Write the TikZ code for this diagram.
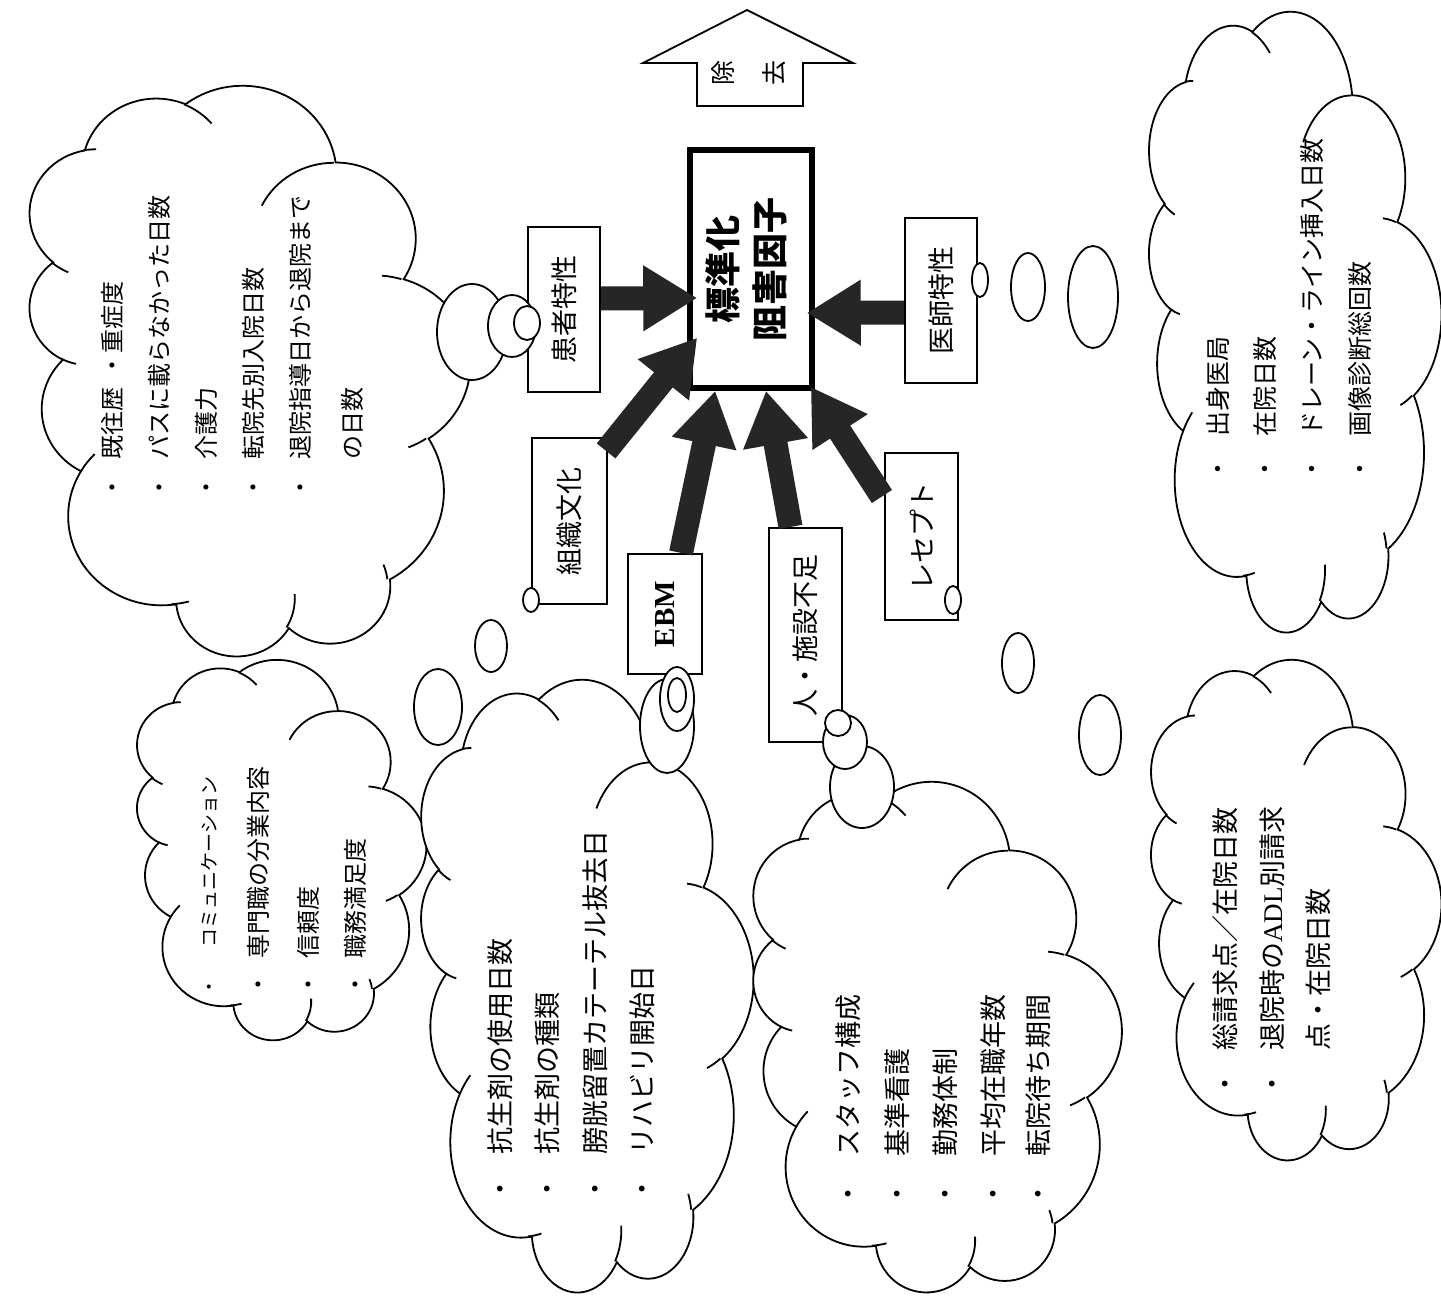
\documentclass[tikz,border=0pt]{standalone}
\usepackage{fontspec}
\usepackage{graphicx}
\setmainfont{Liberation Serif}
\newfontfamily\jp{Noto Sans CJK JP}
\usetikzlibrary{arrows.meta,calc}

% --- Word-style cloud outline (unit frame 0..100, y down) -------------------
% arc given by radii, visual start angle and sweep; converted to parametric
\newcommand\cloudangles[4]{%
  \pgfmathsetmacro\tmpa{atan2(sin(#3)/#2, cos(#3)/#1)}%
  \pgfmathsetmacro\tmpb{atan2(sin(#3+#4)/#2, cos(#3+#4)/#1)}%
  \pgfmathsetmacro\tmpd{mod(\tmpb-\tmpa+720,360)}%
  \xdef\cas{\tmpa}\xdef\cad{\tmpd}}
\newcommand\carc[4]{\pgfextra{\cloudangles{#1}{#2}{#3}{#4}}arc[start angle=\cas,delta angle=\cad,x radius=#1,y radius=#2]}

\def\cloudoutline{(9.028,33.264)
 \carc{15.632}{21.273}{-190.487}{123.781}
 \carc{12.345}{16.822}{-144.102}{89.945}
 \carc{10.104}{13.762}{-145.808}{99.723}
 \carc{11.243}{15.266}{-130.986}{117.242}
 \carc{12.345}{16.836}{-78.709}{109.027}
 \carc{15.683}{21.343}{-46.267}{130.269}
 \carc{13.391}{18.211}{0.625}{114.033}
 \carc{15.630}{21.331}{22.452}{115.173}
 \carc{17.870}{24.405}{66.243}{75.711}
 \carc{10.093}{13.699}{-274.942}{146.736}
 \carc{10.058}{13.762}{-246.829}{152.519}
 -- cycle}
\def\cloudinner{%
 (10.863,60.595) \carc{10.058}{13.762}{86.742}{26.430}
 (16.037,80.785) \carc{10.093}{13.699}{73.611}{11.447}
 (38.144,90.486) \carc{15.630}{21.331}{137.624}{14.081}
 (66.729,80.442) \carc{15.630}{21.331}{6.453}{15.998}
 (79.002,53.134) \carc{13.391}{18.211}{-70.292}{70.917}
 (96.755,35.542) \carc{12.345}{16.836}{30.318}{27.752}
 (88.713,12.560) \carc{11.243}{15.266}{-13.744}{14.859}
 (67.310,9.148)  \carc{11.243}{15.266}{-149.181}{18.195}
 (51.252,10.926) \carc{10.104}{13.762}{-163.494}{17.686}
 (32.407,12.019) \carc{15.632}{21.273}{-66.707}{12.319}
 (9.553,36.549)  \carc{15.632}{21.273}{160.453}{14.417}}

% cloud turned a quarter turn: left, top, right, bottom of its box
\newcommand\wordcloud[4]{%
  \pgfmathsetmacro\cwX{(#4-#2)/100}%
  \pgfmathsetmacro\cwY{(#3-#1)/100}%
  \begin{scope}[shift={(#1,#4)}, x={(0pt,\cwX pt)}, y={(\cwY pt,0pt)}]
    \draw[cloudline] \cloudoutline;
    \draw[cloudline, fill=none] \cloudinner;
  \end{scope}}

\tikzset{
  cloudline/.style={line width=1.8pt, draw=black, fill=white},
  bubble/.style={line width=1.8pt, draw=black, fill=white},
  factor/.style={draw, line width=2.2pt, fill=white, inner sep=0pt,
    font=\jp\fontsize{27}{27}\selectfont},
  core/.style={draw, line width=5.5pt, fill=white, inner sep=0pt,
    font=\jp\bfseries\fontsize{36}{47}\selectfont},
  fat/.style={line width=24pt, draw=black!85, -{Triangle[width=62pt,length=54pt]}},
  item/.style={rotate=90, anchor=west, inner sep=0pt, font=\jp\fontsize{25}{25}\selectfont},
  itemL/.style={item, font=\jp\fontsize{27}{27}\selectfont},
  itemS/.style={item, font=\jp\fontsize{24}{24}\selectfont},
  itemXS/.style={item, font=\jp\fontsize{19}{19}\selectfont},
}

\begin{document}
\begin{tikzpicture}[x=1pt,y=-1pt]
\fill[white] (0,0) rectangle (1441,1303);
\useasboundingbox (0,0) rectangle (1441,1303);

% clouds
\wordcloud{28}{86}{468}{656}
\wordcloud{1148}{12}{1440}{632}
\wordcloud{136}{660}{425}{1040}
\wordcloud{420}{680}{752}{1292}
\wordcloud{752}{782}{1120}{1292}
\wordcloud{1150}{660}{1440}{1160}

% removal arrow
\draw[line width=1.8pt, fill=white] (747,10) -- (853,63) -- (803,63) -- (803,106)
  -- (697,106) -- (697,63) -- (643,63) -- cycle;
\node[inner sep=0pt, font=\jp\fontsize{25}{51}\selectfont] (jokyo) at (748,73)
  {\rotatebox{90}{\begin{tabular}{@{}c@{}}除\\去\end{tabular}}};

% central box and factor boxes
\node[core, minimum width=122pt, minimum height=238pt] (hyoujun) at (751,269)
  {\rotatebox{90}{\begin{tabular}{@{}c@{}}標準化\\阻害因子\end{tabular}}};
\node[factor, minimum width=72pt, minimum height=165pt] (kanja) at (564,309.5) {\rotatebox{90}{患者特性}};
\node[factor, minimum width=72pt, minimum height=165pt] (ishi) at (941,300.5) {\rotatebox{90}{医師特性}};
\node[factor, minimum width=75pt, minimum height=166pt] (soshiki) at (569.5,521) {\rotatebox{90}{組織文化}};
\node[factor, minimum width=74pt, minimum height=120pt, font=\rmfamily\bfseries\fontsize{29}{29}\selectfont] (ebm) at (665,614) {\rotatebox{90}{EBM}};
\node[factor, minimum width=73pt, minimum height=214pt] (hito) at (805.5,635) {\rotatebox{90}{人・施設不足}};
\node[factor, minimum width=73pt, minimum height=167pt] (rece) at (921.5,536.5) {\rotatebox{90}{レセプト}};

% factor arrows
\draw[fat] ($(kanja.east)+(0,-11)$) -- ($(hyoujun.west)+(10,29)$);
\draw[fat] ($(ishi.west)+(0,12)$) -- ($(hyoujun.east)+(-8,44)$);
\draw[fat] ($(soshiki.north east)+(-2,14)$) -- ($(hyoujun.south west)+(10,-53)$);
\draw[fat] ($(ebm.north)+(16,0)$) -- ($(hyoujun.south west)+(28,0)$);
\draw[fat] ($(hito.north)+(-15,0)$) -- ($(hyoujun.south)+(15,0)$);
\draw[fat] ($(rece.west)+(-2,-40)$) -- ($(hyoujun.south east)+(-4,-4)$);

% callout bubbles
\draw[bubble] (472,332) ellipse [x radius=35, y radius=48];
\draw[bubble] (512,326) ellipse [x radius=24, y radius=31];
\draw[bubble] (527,323) ellipse [x radius=13, y radius=17];
\draw[bubble] (1093,297) ellipse [x radius=25, y radius=51];
\draw[bubble] (1028,287) ellipse [x radius=17, y radius=34];
\draw[bubble] (980,280) ellipse [x radius=8, y radius=17];
\draw[bubble] (438,707) ellipse [x radius=24, y radius=38];
\draw[bubble] (491,646) ellipse [x radius=16, y radius=26];
\draw[bubble] (531,600) ellipse [x radius=8, y radius=12];
\draw[bubble] (667,726) ellipse [x radius=27, y radius=47];
\draw[bubble] (677,699) ellipse [x radius=17, y radius=32];
\draw[bubble] (677,695) ellipse [x radius=9, y radius=17];
\draw[bubble] (862,787) ellipse [x radius=32, y radius=41];
\draw[bubble] (845,742) ellipse [x radius=22, y radius=27];
\draw[bubble] (838,723) ellipse [x radius=13, y radius=13];
\draw[bubble] (1100,735) ellipse [x radius=21, y radius=40];
\draw[bubble] (1018,663) ellipse [x radius=16, y radius=30];
\draw[bubble] (953,600) ellipse [x radius=8, y radius=14];

% patient factors
\node[itemS] (p1) at (112,500) {・\hspace{.7em}既往歴\hspace{.4em}・重症度};
\node[itemS] (p2) at (159,500) {・\hspace{.7em}パスに載らなかった日数};
\node[itemS] (p3) at (206,500) {・\hspace{.7em}介護力};
\node[itemS] (p4) at (253,500) {・\hspace{.7em}転院先別入院日数};
\node[itemS] (p5) at (300,500) {・\hspace{.7em}退院指導日から退院まで};
\node[itemS] (p6) at (352,500) {\phantom{・}\hspace{.7em}の日数};

% doctor factors
\node[item] (d1) at (1218,482) {・\hspace{.8em}出身医局};
\node[item] (d2) at (1265,482) {・\hspace{.8em}在院日数};
\node[item] (d3) at (1312,482) {・\hspace{.8em}ドレーン・ライン挿入日数};
\node[item] (d4) at (1360,482) {・\hspace{.8em}画像診断総回数};

% organisational culture
\node[itemXS] (o1) at (210,997) {・\hspace{1.6em}コミュニケーション};
\node[itemS] (o2) at (258,997) {・\hspace{.6em}専門職の分業内容};
\node[itemS] (o3) at (308,997) {・\hspace{.6em}信頼度};
\node[itemS] (o4) at (355,997) {・\hspace{.6em}職務満足度};

% EBM
\node[itemL] (e1) at (500,1203) {・\hspace{.8em}抗生剤の使用日数};
\node[itemL] (e2) at (547,1203) {・\hspace{.8em}抗生剤の種類};
\node[itemL] (e3) at (595,1203) {・\hspace{.8em}膀胱留置カテーテル抜去日};
\node[itemL] (e4) at (642,1203) {・\hspace{.8em}リハビリ開始日};

% staff and facilities
\node[itemL] (s1) at (848,1208) {・\hspace{.9em}スタッフ構成};
\node[itemL] (s2) at (897,1208) {・\hspace{.9em}基準看護};
\node[itemL] (s3) at (945,1208) {・\hspace{.9em}勤務体制};
\node[itemL] (s4) at (993,1208) {・\hspace{.9em}平均在職年数};
\node[itemL] (s5) at (1038,1208) {・\hspace{.9em}転院待ち期間};

% receipts
\node[itemL] (r1) at (1225,1098) {・\hspace{.75em}総請求点／在院日数};
\node[itemL] (r2) at (1272,1098) {・\hspace{.75em}退院時の{\rmfamily ADL}別請求};
\node[itemL] (r3) at (1318,1098) {\phantom{・}\hspace{.75em}点・在院日数};
\end{tikzpicture}
\end{document}
